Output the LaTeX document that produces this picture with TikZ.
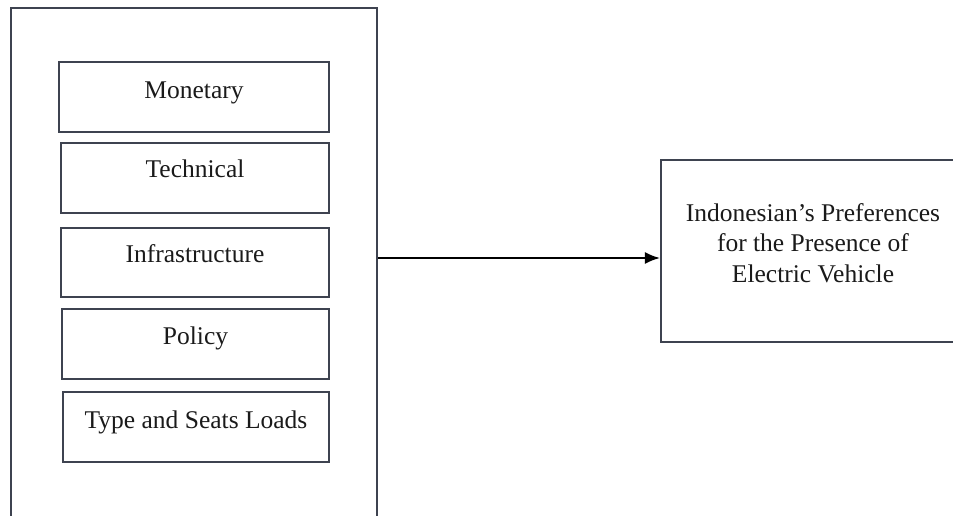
\documentclass[tikz,border=0pt]{standalone}
\usepackage{fontspec}
\setmainfont{Liberation Serif}
\usetikzlibrary{arrows.meta}
\definecolor{boxline}{HTML}{3E4350}
\definecolor{txtcol}{HTML}{1A1A1A}
\tikzset{
  boxframe/.style={draw=boxline, line width=2.2pt, rectangle, inner sep=0pt},
  lbl/.style={text=txtcol, inner sep=0pt, font=\fontsize{25.5}{30.5}\selectfont},
  conn/.style={draw=black, line width=1.8pt, -{Latex[length=15pt,width=12pt]}}
}
\begin{document}
\begin{tikzpicture}[x=1pt,y=-1pt]
\useasboundingbox (0,0) rectangle (953,515);
\begin{scope}
\clip (0,0) rectangle (953,515);
\node[boxframe, minimum width=366pt, minimum height=517pt] (outer) at (194,266.5) {};
\node[boxframe, minimum width=270pt, minimum height=70pt] (mon) at (194,97) {};
\node[boxframe, minimum width=268pt, minimum height=70pt] (tec) at (195,178) {};
\node[boxframe, minimum width=268pt, minimum height=69pt] (inf) at (195,262.5) {};
\node[boxframe, minimum width=267pt, minimum height=70pt] (pol) at (195.5,344) {};
\node[boxframe, minimum width=266pt, minimum height=70pt] (typ) at (196,427) {};
\node[boxframe, minimum width=299pt, minimum height=182pt] (ev) at (810.5,251) {};
\node[lbl] (tmon) at ([yshift=4pt]mon.center) {Monetary};
\node[lbl] (ttec) at ([yshift=9pt]tec.center) {Technical};
\node[lbl] (tinf) at ([yshift=9pt]inf.center) {Infrastructure};
\node[lbl] (tpol) at ([yshift=6pt]pol.center) {Policy};
\node[lbl] (ttyp) at ([yshift=5pt]typ.center) {Type and Seats Loads};
\node[lbl, align=center] (tev) at (813,243) {Indonesian’s Preferences\\for the Presence of\\Electric Vehicle};
\coordinate (ay) at (500,258);
\draw[conn] (outer.east |- ay) -- (ev.west |- ay);
\end{scope}
\end{tikzpicture}
\end{document}
